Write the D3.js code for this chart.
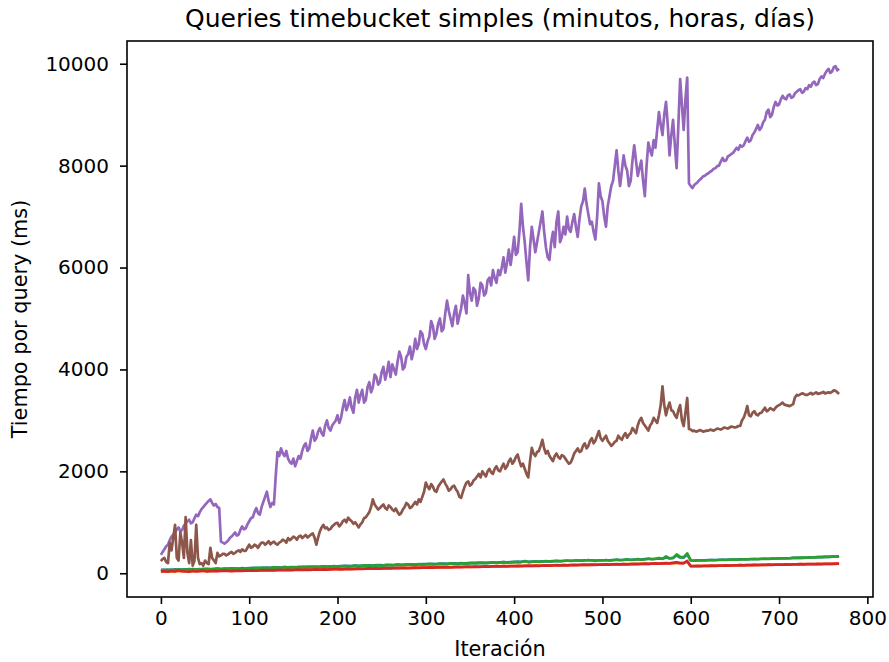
<!DOCTYPE html>
<html><head><meta charset="utf-8">
<script src="https://cdn.jsdelivr.net/npm/d3@7"></script>
<style>body{margin:0;background:#fff}text{font-family:"DejaVu Sans",sans-serif;fill:#000}</style>
</head><body><svg id="chart" width="889" height="662"></svg>
<script>
const titleText = "Queries timebucket simples (minutos, horas, días)";
const xLabel = "Iteración";
const yLabel = "Tiempo por query (ms)";
const xTicks = [0,100,200,300,400,500,600,700,800];
const yTicks = [0,2000,4000,6000,8000,10000];
const iterations = d3.range(0, 769, 4);      // x for the small series
const iterationsFine = d3.range(0, 769, 2);  // x for the two large series
const seriesColors = ["#1f77b4","#ff7f0e","#2ca02c","#d62728","#9467bd","#8c564b"];

const blue = [65,60,70,60,75,65,70,75,70,80,75,70,85,80,75,85,90,80,90,85,95,90,85,100,90,
95,105,100,105,100,110,105,110,115,110,120,115,120,110,125,120,125,130,120,130,125,135,130,135,135,
135,140,140,145,140,150,145,150,150,155,150,155,160,155,160,165,160,170,165,170,170,175,170,175,180,
180,180,185,180,185,190,185,190,195,190,195,195,200,200,205,210,200,205,210,215,210,215,220,215,220,
220,230,225,235,225,230,230,230,235,235,235,240,240,240,245,245,245,250,250,250,255,255,255,250,255,
255,255,255,260,260,260,265,265,265,270,270,270,280,280,280,285,290,285,310,295,300,350,310,310,370,
255,250,255,255,255,260,260,260,265,265,265,270,270,270,275,275,275,280,280,280,285,285,285,290,290,
290,295,295,295,300,300,300,305,305,310,310,315,315,320,320,325,325,330];

const orange = [30,35,35,40,35,45,40,40,35,40,40,45,45,40,45,45,45,50,50,50,45,50,50,50,55,
55,55,55,60,60,60,60,60,65,65,65,65,65,70,70,70,70,70,75,75,75,75,75,80,80,
80,80,85,85,85,85,90,90,90,90,95,95,95,95,100,100,100,100,105,105,105,105,110,110,110,
110,115,115,115,115,120,120,120,120,125,125,125,125,125,130,130,130,130,135,135,135,135,140,140,140,
140,140,145,145,145,145,150,150,150,150,155,155,155,155,160,160,160,160,165,165,165,165,170,170,170,
170,170,175,175,175,175,180,180,180,180,185,185,185,185,190,190,190,190,195,195,200,205,200,200,225,
140,140,140,145,145,145,150,150,150,150,155,155,155,155,160,160,160,160,165,165,165,165,170,170,170,
170,170,175,175,175,175,180,180,180,180,180,180,185,185,185,185,185,190];

const green = [60,65,55,70,60,75,65,70,80,70,75,80,70,85,80,75,90,80,85,90,85,95,90,85,95,
100,95,105,100,110,100,105,115,105,110,120,110,115,120,110,125,120,115,130,120,125,135,125,130,140,
130,135,145,135,140,150,140,145,155,145,150,160,150,155,165,155,160,170,160,165,175,165,170,180,170,
175,185,175,180,190,180,185,195,185,190,200,190,195,205,195,200,210,200,205,215,205,210,220,210,215,
225,215,220,240,220,225,235,225,230,240,230,235,245,235,240,250,240,245,255,245,250,260,250,240,255,
250,260,250,255,270,255,260,275,260,265,280,265,270,290,275,280,300,280,330,290,300,370,320,310,390,
250,245,250,255,250,255,260,255,260,265,260,265,270,265,270,275,270,275,280,275,280,285,280,285,290,
290,295,290,295,300,300,305,300,305,310,310,315,315,320,320,325,325,330];

const red = [35,40,30,45,35,60,40,35,30,45,35,40,50,35,40,45,40,45,50,45,40,45,50,45,50,
50,55,50,55,60,55,60,55,60,65,60,65,60,65,70,65,70,65,70,75,70,75,70,75,80,
80,75,80,85,80,85,90,85,90,95,90,95,90,95,100,95,100,105,100,105,100,105,110,105,110,
110,115,110,115,120,115,120,115,120,125,120,125,130,125,130,125,130,135,130,135,140,135,140,135,140,
140,145,140,145,150,145,150,145,150,155,150,155,160,155,160,155,160,165,160,165,170,165,170,165,170,
170,175,170,175,180,175,180,175,180,185,180,185,190,185,190,195,190,195,200,195,205,215,200,200,240,
140,140,145,140,145,145,150,145,150,150,155,150,155,155,160,155,160,160,165,160,165,165,170,165,170,
170,170,175,170,175,175,180,175,180,180,180,185,180,185,185,185,190,190];

const purple = [360,420,470,530,560,650,720,760,800,860,900,820,850,930,980,1020,1050,980,1000,1080,1150,1120,1200,1260,1300,1340,1380,1420,1450,1380,1330,1360,1300,1280,620,600,580,610,640,690,720,760,800,740,760,850,920,860,880,960,
1020,1080,1100,1200,1280,1180,1150,1300,1400,1500,1600,1420,1300,1380,1350,1900,2380,2300,2450,2350,2300,2400,2250,2180,2150,2250,2100,2200,2300,2250,2400,2500,2550,2400,2450,2650,2800,2600,2650,2780,2850,2750,2700,2900,3000,2850,2800,2900,2950,3000,
3100,2950,3050,3250,3400,3200,3300,3450,3250,3150,3450,3600,3350,3500,3600,3350,3400,3650,3750,3550,3650,3900,3850,3700,3750,3950,4050,3800,3950,4150,3850,4100,4000,3900,4150,4350,4250,4000,4050,4250,4300,4450,4200,4350,4600,4400,4500,4750,4700,4500,
4400,4550,4650,4950,4850,4600,4700,4900,5000,4750,4800,5100,5350,5150,5000,4850,5100,5250,4900,5050,5200,5450,5300,5100,5850,5500,5350,5600,5550,5250,5400,5700,5650,5450,5500,5750,5800,5650,5950,5800,5700,5950,5850,6000,6200,5900,6100,6350,6050,6300,
6600,6250,6300,6700,7250,6800,6500,6100,5750,6400,6800,6550,6300,6500,6700,6900,7100,6700,6400,6200,6150,6500,6700,6400,6900,7100,6500,6600,6800,6650,7000,6750,6700,6900,7050,6800,6600,6950,7200,7300,7550,7250,7050,6850,6900,6700,6550,7000,7650,7400,
7300,7000,6800,7200,7400,7600,7700,8000,8300,7900,7600,7900,8200,8000,7900,7600,7700,8100,8400,8100,7800,7950,8100,7700,7400,8000,8450,8300,8200,8500,8350,8700,9050,8800,8600,9000,9250,8800,8200,8600,8900,8400,7950,8800,9700,9200,8700,9300,9730,7650,
7600,7560,7620,7650,7680,7720,7750,7790,7800,7830,7850,7880,7900,7940,7950,7990,8000,8080,8150,8090,8100,8180,8200,8230,8250,8300,8350,8310,8400,8370,8400,8480,8550,8470,8500,8600,8650,8720,8800,8700,8750,8850,8900,9050,9100,8950,9000,9150,9250,9180,
9200,9300,9370,9320,9300,9380,9400,9330,9350,9420,9450,9480,9500,9430,9450,9520,9500,9580,9550,9620,9650,9580,9600,9700,9750,9720,9800,9860,9900,9820,9850,9930,9950,9870,9900];

const brown = [240,280,300,220,200,600,450,700,950,300,250,800,600,300,1100,400,200,650,150,250,950,300,180,200,150,250,200,180,500,300,250,200,400,330,350,380,380,350,370,400,420,380,400,430,450,420,470,440,440,500,
560,500,520,560,540,500,560,600,600,560,590,630,570,600,620,580,560,600,620,660,640,600,690,650,680,720,700,660,720,740,690,720,750,700,730,760,780,700,560,700,820,900,950,880,900,850,870,920,950,980,
990,920,960,1020,1050,1000,1090,1050,1020,970,1000,950,900,960,1000,1080,1100,1150,1200,1300,1450,1350,1300,1250,1280,1320,1350,1280,1250,1330,1300,1250,1220,1270,1200,1150,1180,1250,1300,1380,1350,1280,1300,1350,1400,1350,1450,1400,1500,1600,
1780,1700,1650,1750,1700,1620,1600,1700,1750,1800,1840,1760,1700,1620,1650,1700,1720,1650,1600,1500,1480,1600,1700,1780,1800,1720,1750,1820,1850,1900,1950,1880,2000,1950,1900,2000,2050,1980,1950,2050,2100,2020,2000,2080,2150,2050,2100,2200,2250,2150,
2200,2280,2330,2200,2100,2150,2050,1950,1880,2200,2460,2350,2300,2380,2400,2500,2620,2450,2350,2400,2300,2250,2200,2300,2350,2280,2250,2320,2300,2250,2200,2150,2170,2250,2350,2400,2450,2380,2400,2500,2550,2450,2500,2600,2650,2550,2600,2700,2790,2650,
2600,2650,2700,2600,2550,2500,2530,2580,2600,2700,2650,2620,2700,2750,2660,2720,2750,2850,2800,2750,2900,3000,3050,2950,2900,2850,2800,2900,2950,3050,3000,2950,3100,3300,3670,3300,3100,3250,3350,3200,3180,3100,3050,3200,3300,3000,2890,3150,3440,2830,
2820,2790,2800,2780,2790,2810,2800,2780,2790,2800,2800,2820,2810,2800,2820,2840,2830,2820,2840,2860,2850,2840,2860,2880,2870,2860,2870,2890,2890,3000,3050,3150,3280,3100,3080,3150,3180,3120,3100,3140,3150,3200,3250,3180,3200,3240,3220,3200,3250,3280,
3300,3320,3350,3310,3300,3290,3280,3300,3320,3450,3500,3490,3510,3530,3520,3500,3500,3520,3540,3510,3530,3550,3520,3530,3540,3560,3530,3540,3550,3540,3560,3590,3580,3550,3520];

const seriesList = [
  {xs: iterations, ys: blue},
  {xs: iterations, ys: orange},
  {xs: iterations, ys: green},
  {xs: iterations, ys: red},
  {xs: iterationsFine, ys: purple},
  {xs: iterationsFine, ys: brown}
];

const svg = d3.select("#chart");
const L = 127, R = 873, T = 41, B = 597;
const xExt = d3.extent(iterations), xPad = 0.05 * (xExt[1] - xExt[0]);
const allVals = seriesList.flatMap(s => s.ys);
const yExt = d3.extent(allVals), yPad = 0.05 * (yExt[1] - yExt[0]);
const x = d3.scaleLinear().domain([xExt[0] - xPad, xExt[1] + xPad]).range([L, R]);
const y = d3.scaleLinear().domain([yExt[0] - yPad, yExt[1] + yPad]).range([B, T]);

svg.append("defs").append("clipPath").attr("id", "clip").append("rect")
  .attr("x", L).attr("y", T).attr("width", R - L).attr("height", B - T);

const g = svg.append("g").attr("clip-path", "url(#clip)");
seriesList.forEach((s, k) => {
  const line = d3.line().x((d, i) => x(s.xs[i])).y(d => y(d));
  g.append("path").datum(s.ys).attr("d", line).attr("fill", "none")
    .attr("stroke", seriesColors[k]).attr("stroke-width", 2.7)
    .attr("stroke-linejoin", "round").attr("stroke-linecap", "butt");
});

const fs = 20;
const xAxis = svg.append("g").attr("transform", `translate(0,${B})`)
  .call(d3.axisBottom(x).tickValues(xTicks).tickSize(7).tickPadding(7).tickFormat(d3.format("d")));
const yAxis = svg.append("g").attr("transform", `translate(${L},0)`)
  .call(d3.axisLeft(y).tickValues(yTicks).tickSize(7).tickPadding(11).tickFormat(d3.format("d")));
[xAxis, yAxis].forEach(a => {
  a.select(".domain").remove();
  a.selectAll(".tick line").attr("stroke", "#000").attr("stroke-width", 1.6);
  a.selectAll(".tick text").attr("font-size", fs).attr("font-family", "DejaVu Sans").attr("fill", "#000");
});

svg.append("rect").attr("x", L).attr("y", T).attr("width", R - L).attr("height", B - T)
  .attr("fill", "none").attr("stroke", "#000").attr("stroke-width", 1.6);

svg.append("text").attr("x", (L + R) / 2).attr("y", 27).attr("text-anchor", "middle")
  .attr("font-size", 25).text(titleText);
svg.append("text").attr("x", (L + R) / 2).attr("y", 656).attr("text-anchor", "middle")
  .attr("font-size", 20.8).text(xLabel);
svg.append("text").attr("transform", `translate(27,${(T + B) / 2}) rotate(-90)`).attr("text-anchor", "middle")
  .attr("font-size", 20.8).text(yLabel);
</script></body></html>
